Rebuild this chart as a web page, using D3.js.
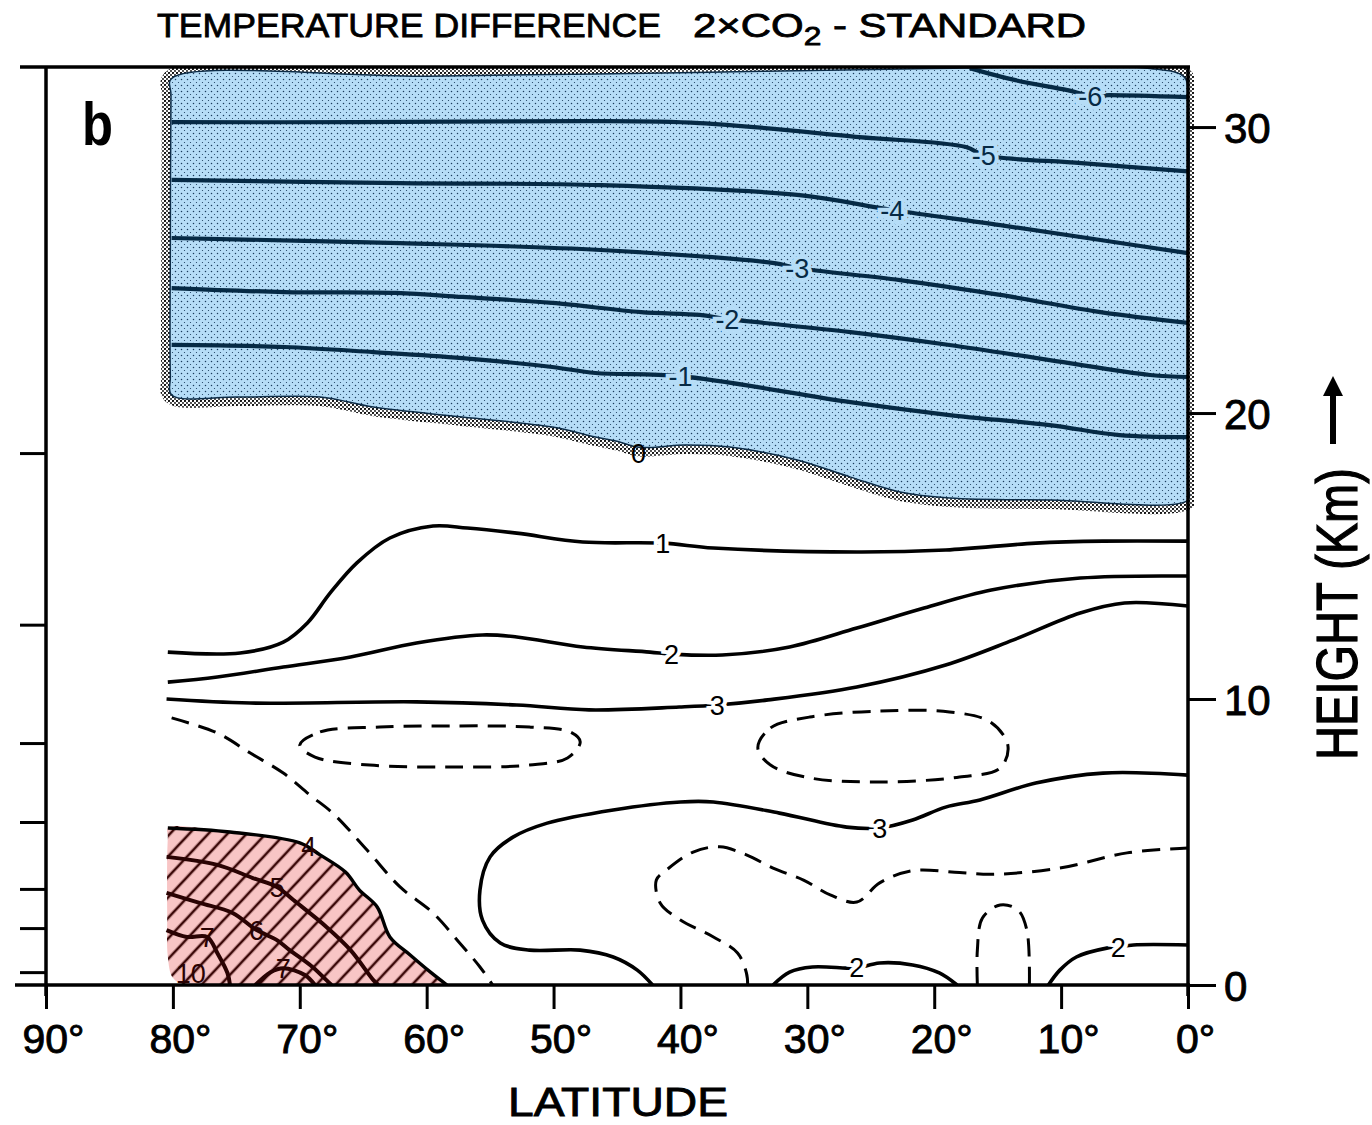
<!DOCTYPE html>
<html>
<head>
<meta charset="utf-8">
<script src="https://cdn.jsdelivr.net/npm/d3@7"></script>
<style>
  body { margin: 0; background: #fff; }
  svg { display: block; }
  text { font-family: "Liberation Sans", "DejaVu Sans", sans-serif; fill: #000; }
</style>
</head>
<body>
<div id="chart"></div>
<script>
// axes: latitude (deg N) and height (km)
var latTicks = [90, 80, 70, 60, 50, 40, 30, 20, 10, 0];
var heightTicks = [0, 10, 20, 30];
var levelTicks = [18.6, 12.6, 8.46, 5.7, 3.36, 1.99, 0.45]; // unlabelled model levels, left side

// stratosphere (cooling, blue) : [lat, km]
var blueTop = [[80.1,31.7],[60,31.78],[40,31.9],[20,32.05],[3,32.05],[0.3,31.75],[0,31],[0,24],[0,17.5]];
var blueLeft = [[80.2,21.3],[80.2,26],[80.15,31.1]];
var c0  = [[80.1,20.63],[74.8,20.56],[68.4,20.56],[64.2,20.21],[57.2,19.86],[50.1,19.51],[46.7,19.16],[44.8,18.99],[43.3,18.8],[39.6,18.88],[36.1,18.81],[30.8,18.36],[26.6,17.76],[22.7,17.24],[18.8,17.03],[10.9,16.96],[0,16.96]];
var cm1 = [[80.1,22.38],[71.2,22.31],[64.2,22.13],[57.2,21.92],[50.1,21.61],[46.7,21.40],[40.0,21.29],[26.6,20.38],[18.8,19.93],[10.9,19.58],[5.4,19.23],[0,19.16]];
var cm2 = [[80.1,24.37],[71.2,24.23],[62.4,24.20],[57.2,24.06],[50.1,23.85],[43.1,23.53],[38.5,23.43],[36.3,23.29],[26.6,22.83],[18.8,22.38],[10.9,21.85],[3.0,21.33],[0,21.26]];
var cm3 = [[80.1,26.12],[62.1,25.94],[46.3,25.70],[32.6,25.24],[30.8,25.07],[22.7,24.65],[14.8,24.13],[6.9,23.53],[0,23.15]];
var cm4 = [[80.1,28.15],[62.1,28.04],[46.3,27.97],[30.6,27.62],[23.3,27.10],[14.8,26.57],[6.9,26.05],[0,25.59]];
var cm5 = [[80.1,30.17],[65.5,30.17],[47.9,30.21],[38.5,30.14],[25.9,29.65],[17.5,29.30],[16.1,29.02],[8.4,28.74],[0,28.45]];
var cm6 = [[17.2,32.06],[13.6,31.64],[9.5,31.29],[7.7,31.1],[6.2,31.12],[0,31.05]];

// troposphere, solid
var c1 = [[80.4,11.64],[74.7,11.61],[71.3,11.99],[69.4,12.66],[67.6,13.71],[65.5,14.76],[62.9,15.63],[59.5,16.05],[56.8,15.98],[52.9,15.80],[47.7,15.49],[41.4,15.45],[37.4,15.28],[26.1,15.14],[19.1,15.21],[12.0,15.45],[6.7,15.52],[0,15.52]];
var c2 = [[80.4,10.59],[76.5,10.77],[71.3,11.12],[66.0,11.47],[60.8,11.96],[55.6,12.24],[52.9,12.17],[47.7,11.82],[42.4,11.64],[40.7,11.57],[36.7,11.54],[31.4,11.82],[26.1,12.48],[20.8,13.18],[15.5,13.81],[8.5,14.23],[0,14.30]];
var c3 = [[80.5,10.00],[73.9,9.86],[60.8,9.90],[52.9,9.79],[47.2,9.62],[40.1,9.72],[37.1,9.79],[33.1,9.97],[26.1,10.42],[19.1,11.19],[13.8,12.06],[8.5,13.01],[5.0,13.36],[0,13.25]];
var c3low = [[0,7.34],[6.7,7.41],[12.0,7.06],[16.4,6.47],[19.1,6.22],[21.7,5.77],[24.3,5.49],[26.9,5.52],[32.2,6.01],[37.4,6.40],[40.0,6.40],[45.3,6.12],[50.5,5.66],[53.2,5.17],[55.0,4.48],[55.8,3.32],[55.6,2.27],[54.2,1.47],[51.9,1.22],[47.9,1.22],[45.3,0.98],[43.4,0.52],[42.2,0]];
var c2low = [[32.7,0],[31.4,0.45],[29.6,0.63],[26.9,0.59],[26.1,0.59],[24.3,0.77],[21.7,0.70],[19.6,0.42],[18.2,0]];
var c2eq = [[11.0,0],[10.1,0.52],[8.8,0.98],[6.4,1.29],[5.5,1.33],[4.3,1.40],[0,1.40]];

// troposphere, dashed
var dPolar = [[80.1,9.34],[76.5,8.81],[73.9,8.11],[71.3,7.41],[69.2,6.64],[67.4,6.01],[64.7,4.72],[62.1,3.43],[59.5,2.52],[57.4,1.47],[55.8,0.63],[54.8,0]];
var dRing1 = [[70.0,8.39],[68.4,8.85],[63.7,9.02],[58.2,9.06],[51.9,9.02],[48.7,8.85],[47.9,8.50],[48.9,7.94],[51.9,7.69],[58.2,7.62],[64.5,7.69],[68.8,7.97]];
var dRing2 = [[33.9,8.29],[32.9,8.99],[29.8,9.37],[24.3,9.58],[18.8,9.55],[15.6,9.20],[14.2,8.39],[14.8,7.59],[18.0,7.27],[24.3,7.10],[29.8,7.24],[32.9,7.69]];
var dLow = [[0,4.79],[4.8,4.62],[10.1,4.09],[15.4,3.87],[18.0,3.93],[21.7,4.0],[24.3,3.57],[26.1,2.90],[28.2,3.15],[30.3,3.67],[32.7,4.09],[34.8,4.55],[36.9,4.83],[39.0,4.65],[41.1,4.02],[41.9,3.67],[41.6,2.87],[40.0,2.27],[37.4,1.68],[35.5,1.12],[34.8,0.42],[34.7,0]];
var dArch = [[16.6,0],[16.6,1.22],[16.2,2.34],[14.8,2.80],[13.4,2.62],[12.7,1.92],[12.5,0]];

// polar surface warming (red, hatched)
var c4 = [[80.4,5.49],[75.5,5.35],[70.0,4.97],[68.4,4.55],[66.4,3.95],[65.3,3.32],[63.9,2.73],[62.9,1.68],[61.3,1.05],[59.7,0.45],[58.4,0]];
var redBase = [[79.0,0],[80.0,0.25],[80.4,1.0],[80.45,2.5],[80.45,4.5],[80.4,5.2]];
var c5 = [[80.5,4.48],[76.5,4.20],[73.7,3.74],[71.8,3.43],[70.5,2.97],[67.9,2.03],[66.0,1.22],[64.2,0.17],[63.8,0]];
var c6 = [[80.5,3.22],[77.9,2.87],[75.3,2.52],[73.4,1.92],[71.8,1.57],[70.8,1.22],[69.0,0.63],[67.9,0.17],[67.5,0]];
var c7a = [[80.5,1.92],[78.9,1.68],[77.3,1.68],[76.5,1.12],[75.7,0.42],[75.5,0]];
var c7b = [[73.5,0],[72.3,0.45],[71.3,0.59],[69.6,0.35],[68.8,0]];

// contour labels [lat, km, text]
var blueLabels = [[7.7,31.1,"-6"],[16.1,29.02,"-5"],[23.3,27.1,"-4"],[30.8,25.07,"-3"],[36.3,23.29,"-2"],[40.0,21.29,"-1"]];
var whiteLabels = [[41.4,15.45,"1"],[40.7,11.57,"2"],[37.1,9.79,"3"],[24.3,5.49,"3"],[26.1,0.62,"2"],[5.5,1.33,"2"]];
var zeroLabel = [43.3,18.62,"0"];
var redLabels = [[69.3,4.85,"4"],[71.8,3.43,"5"],[73.4,1.92,"6"],[77.3,1.68,"7"],[71.3,0.59,"7"],[78.6,0.42,"10"]];

var W = 1372, H = 1125;
var svg = d3.select("#chart").append("svg").attr("width", W).attr("height", H);

var x = d3.scaleLinear().domain([90, 0]).range([46, 1188]);
var y = d3.scaleLinear().domain([0, 32.1]).range([985, 67]);

var line = d3.line().x(function(d) { return x(d[0]); }).y(function(d) { return y(d[1]); })
    .curve(d3.curveCatmullRom.alpha(0.5));
var area = d3.line().x(function(d) { return x(d[0]); }).y(function(d) { return y(d[1]); })
    .curve(d3.curveCatmullRomClosed.alpha(0.5));

var defs = svg.append("defs");
defs.append("clipPath").attr("id", "plot").append("rect")
    .attr("x", 46).attr("y", 67).attr("width", 1148).attr("height", 918);

var pb = defs.append("pattern").attr("id", "blueDots").attr("patternUnits", "userSpaceOnUse")
    .attr("width", 6).attr("height", 6);
pb.append("rect").attr("width", 6).attr("height", 6).attr("fill", "#b6ddf7");
pb.append("circle").attr("cx", 1.5).attr("cy", 1.5).attr("r", 0.75).attr("fill", "#1a3b5c");
pb.append("circle").attr("cx", 4.5).attr("cy", 4.5).attr("r", 0.6).attr("fill", "#1a3b5c");

var ps = defs.append("pattern").attr("id", "blackDots").attr("patternUnits", "userSpaceOnUse")
    .attr("width", 4).attr("height", 4);
ps.append("rect").attr("width", 4).attr("height", 4).attr("fill", "#fff");
ps.append("circle").attr("cx", 1).attr("cy", 1).attr("r", 1.1).attr("fill", "#000");
ps.append("circle").attr("cx", 3).attr("cy", 3).attr("r", 0.9).attr("fill", "#000");

var ph = defs.append("pattern").attr("id", "hatch").attr("patternUnits", "userSpaceOnUse")
    .attr("width", 14).attr("height", 14).attr("patternTransform", "rotate(-47)");
ph.append("rect").attr("width", 14).attr("height", 14).attr("fill", "#f8c5c5");
ph.append("line").attr("x1", 0).attr("y1", 7).attr("x2", 14).attr("y2", 7)
    .attr("stroke", "#3b0808").attr("stroke-width", 2.6);

var g = svg.append("g").attr("clip-path", "url(#plot)");

// blue region, with the stippled rim of the original shading
var bluePoly = blueTop.concat(c0.slice().reverse(), blueLeft);
g.append("path").attr("d", area(bluePoly)).attr("fill", "none")
    .attr("stroke", "url(#blackDots)").attr("stroke-width", 18);
g.append("path").attr("d", area(bluePoly)).attr("fill", "url(#blueDots)")
    .attr("stroke", "#0d2c47").attr("stroke-width", 1.5);

// red region
var redPoly = c4.concat(redBase);
g.append("path").attr("d", area(redPoly)).attr("fill", "url(#hatch)").attr("stroke", "none");

// contours
[cm1, cm2, cm3, cm4, cm5, cm6].forEach(function(c) {
  g.append("path").attr("d", line(c)).attr("fill", "none")
      .attr("stroke", "#062a45").attr("stroke-width", 4.2);
});
[c1, c2, c3, c3low, c2low, c2eq].forEach(function(c) {
  g.append("path").attr("d", line(c)).attr("fill", "none")
      .attr("stroke", "#000").attr("stroke-width", 3.6);
});
[dPolar, dLow, dArch].forEach(function(c) {
  g.append("path").attr("d", line(c)).attr("fill", "none")
      .attr("stroke", "#000").attr("stroke-width", 3).attr("stroke-dasharray", "18,10");
});
[dRing1, dRing2].forEach(function(c) {
  g.append("path").attr("d", area(c)).attr("fill", "none")
      .attr("stroke", "#000").attr("stroke-width", 3).attr("stroke-dasharray", "18,10");
});
g.append("path").attr("d", line(c4)).attr("fill", "none")
    .attr("stroke", "#000").attr("stroke-width", 3.4);
[c5, c6, c7a, c7b].forEach(function(c) {
  g.append("path").attr("d", line(c)).attr("fill", "none")
      .attr("stroke", "#2a0303").attr("stroke-width", 4);
});

// labels
function addLabels(list, halo, col) {
  g.selectAll(null).data(list).enter().append("text")
      .attr("x", function(d) { return x(d[0]); })
      .attr("y", function(d) { return y(d[1]) + 10; })
      .attr("text-anchor", "middle")
      .attr("font-size", 27)
      .attr("stroke", halo).attr("stroke-width", halo === "none" ? 0 : 8)
      .attr("paint-order", "stroke")
      .style("fill", col)
      .text(function(d) { return d[2]; });
}
addLabels(blueLabels, "#b6ddf7", "#062a45");
addLabels(whiteLabels, "#fff", "#000");
addLabels([zeroLabel], "none", "#000");
addLabels(redLabels, "none", "#2a0303");

// frame & axes
var ax = svg.append("g").attr("stroke", "#000").attr("fill", "none");
ax.append("line").attr("x1", 20).attr("x2", 1190).attr("y1", 67).attr("y2", 67).attr("stroke-width", 3.5);
ax.append("line").attr("x1", 46).attr("x2", 46).attr("y1", 66).attr("y2", 996).attr("stroke-width", 3.5);
ax.append("line").attr("x1", 1188).attr("x2", 1188).attr("y1", 66).attr("y2", 996).attr("stroke-width", 3.5);
ax.append("line").attr("x1", 15).attr("x2", 1190).attr("y1", 985).attr("y2", 985).attr("stroke-width", 3.5);

var xAxis = svg.append("g").attr("transform", "translate(0,985)")
    .call(d3.axisBottom(x).tickValues(latTicks).tickSize(24).tickSizeOuter(0)
      .tickFormat(function(d) { return d + "°"; }));
xAxis.select(".domain").remove();
xAxis.selectAll("line").attr("stroke", "#000").attr("stroke-width", 3);
xAxis.selectAll("text").attr("font-size", 41).attr("dy", null).attr("y", 68).attr("dx", 7)
    .attr("stroke", "#000").attr("stroke-width", 0.9)
    .style("font-family", "'Liberation Sans', sans-serif");

var yAxisR = svg.append("g").attr("transform", "translate(1188,0)")
    .call(d3.axisRight(y).tickValues(heightTicks).tickSize(28).tickSizeOuter(0)
      .tickFormat(function(d) { return d; }));
yAxisR.select(".domain").remove();
yAxisR.selectAll("line").attr("stroke", "#000").attr("stroke-width", 3);
yAxisR.selectAll("text").attr("font-size", 42).attr("dy", null).attr("y", 15).attr("x", 36)
    .attr("stroke", "#000").attr("stroke-width", 0.9);

var yAxisL = svg.append("g").attr("transform", "translate(46,0)")
    .call(d3.axisLeft(y).tickValues(levelTicks).tickSize(26).tickSizeOuter(0).tickFormat(""));
yAxisL.select(".domain").remove();
yAxisL.selectAll("line").attr("stroke", "#000").attr("stroke-width", 3);

// titles
svg.append("text").attr("x", 157).attr("y", 37).attr("font-size", 33)
    .attr("stroke", "#000").attr("stroke-width", 0.8)
    .attr("textLength", 504).attr("lengthAdjust", "spacingAndGlyphs")
    .text("TEMPERATURE DIFFERENCE");
var t2 = svg.append("text").attr("x", 693).attr("y", 37).attr("font-size", 33)
    .attr("stroke", "#000").attr("stroke-width", 0.8)
    .attr("textLength", 393).attr("lengthAdjust", "spacingAndGlyphs");
t2.append("tspan").text("2×CO");
t2.append("tspan").attr("dy", 8).attr("font-size", 25).text("2");
t2.append("tspan").attr("dy", -8).text(" - STANDARD");

svg.append("text").attr("x", 82).attr("y", 145).attr("font-size", 62).attr("font-weight", "bold")
    .attr("textLength", 31).attr("lengthAdjust", "spacingAndGlyphs").text("b");

svg.append("text").attr("x", 618).attr("y", 1116).attr("text-anchor", "middle").attr("font-size", 41)
    .attr("stroke", "#000").attr("stroke-width", 0.9)
    .attr("textLength", 220).attr("lengthAdjust", "spacingAndGlyphs").text("LATITUDE");

svg.append("text").attr("transform", "translate(1357,614) rotate(-90)").attr("text-anchor", "middle")
    .attr("font-size", 58).attr("stroke", "#000").attr("stroke-width", 1.2)
    .attr("textLength", 292).attr("lengthAdjust", "spacingAndGlyphs")
    .text("HEIGHT (Km)");

// arrow next to the height label
svg.append("line").attr("x1", 1333).attr("x2", 1333).attr("y1", 444).attr("y2", 392)
    .attr("stroke", "#000").attr("stroke-width", 6);
svg.append("path").attr("d", "M1323,396 L1333,376 L1343,396 Z").attr("fill", "#000");
</script>
</body>
</html>
